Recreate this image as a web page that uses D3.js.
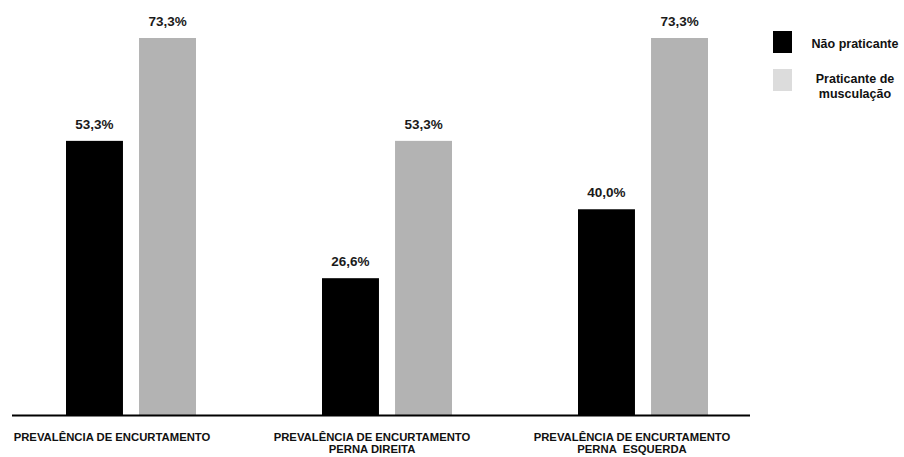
<!DOCTYPE html>
<html>
<head>
<meta charset="utf-8">
<script src="https://cdn.jsdelivr.net/npm/d3@7"></script>
<style>
  html, body { margin: 0; padding: 0; background: #fff; }
  svg { display: block; font-family: "Liberation Sans", Arial, sans-serif; }
</style>
</head>
<body>
<svg id="chart" width="904" height="457"></svg>
<script>
const categories = [
  ["PREVALÊNCIA DE ENCURTAMENTO"],
  ["PREVALÊNCIA DE ENCURTAMENTO", "PERNA DIREITA"],
  ["PREVALÊNCIA DE ENCURTAMENTO", "PERNA  ESQUERDA"]
];
const seriesNames = ["Não praticante", "Praticante de musculação"];
const naoPraticante = [53.3, 26.6, 40.0];
const praticante = [73.3, 53.3, 73.3];
const valueLabels = [["53,3%", "26,6%", "40,0%"], ["73,3%", "53,3%", "73,3%"]];
const legendLabels = [["Não praticante"], ["Praticante de", "musculação"]];

const svg = d3.select("#chart");
const catIdx = categories.map((d, i) => i);
const seriesData = [naoPraticante, praticante];
const barColors = ["#000000", "#b3b3b3"];
const legendColors = ["#000000", "#dcdcdc"];

const baseY = 415;
const y = d3.scaleLinear().domain([0, 73.3]).range([baseY, 38]);
const x0 = d3.scaleBand().domain(catIdx).range([2, 770]).padding(0);
const x1 = d3.scaleBand().domain([0, 1]).range([64, 194]).paddingInner(0.22).paddingOuter(0);
const xLabel = d3.scalePoint().domain(catIdx).range([112, 632]);

const groups = svg.append("g").selectAll("g")
  .data(catIdx).join("g")
  .attr("transform", i => `translate(${x0(i)},0)`);

groups.selectAll("rect")
  .data(i => seriesData.map((s, k) => ({ k, v: s[i], lbl: valueLabels[k][i] })))
  .join("rect")
  .attr("x", d => x1(d.k))
  .attr("width", x1.bandwidth())
  .attr("y", d => y(d.v))
  .attr("height", d => baseY - y(d.v))
  .attr("fill", d => barColors[d.k]);

groups.selectAll("text.val")
  .data(i => seriesData.map((s, k) => ({ k, v: s[i], lbl: valueLabels[k][i] })))
  .join("text")
  .attr("class", "val")
  .attr("x", d => x1(d.k) + x1.bandwidth() / 2)
  .attr("y", d => y(d.v) - 12)
  .attr("text-anchor", "middle")
  .attr("font-size", 13.5)
  .attr("font-weight", "bold")
  .attr("fill", "#1a1a1a")
  .text(d => d.lbl);

// baseline axis
svg.append("line")
  .attr("x1", 12).attr("x2", 750)
  .attr("y1", baseY + 0.5).attr("y2", baseY + 0.5)
  .attr("stroke", "#000").attr("stroke-width", 2);

// category labels
const lab = svg.append("g").selectAll("text")
  .data(catIdx).join("text")
  .attr("x", i => xLabel(i))
  .attr("y", 440.5)
  .attr("text-anchor", "middle")
  .attr("font-size", 11.3)
  .attr("font-weight", "bold")
  .attr("fill", "#111");
lab.selectAll("tspan")
  .data(i => categories[i])
  .join("tspan")
  .attr("x", function () { return d3.select(this.parentNode).attr("x"); })
  .attr("dy", (d, j) => j === 0 ? 0 : 12.8)
  .attr("xml:space", "preserve")
  .style("white-space", "pre")
  .text(d => d);

// legend
const leg = svg.append("g");
const legY = d3.scalePoint().domain([0, 1]).range([31, 69]);
leg.selectAll("rect")
  .data([0, 1]).join("rect")
  .attr("x", 773)
  .attr("y", k => legY(k))
  .attr("width", 19)
  .attr("height", 22)
  .attr("fill", k => legendColors[k]);
const lt = leg.selectAll("text")
  .data([0, 1]).join("text")
  .attr("x", 855)
  .attr("y", k => k === 0 ? 48 : 83)
  .attr("text-anchor", "middle")
  .attr("font-size", 12.5)
  .attr("font-weight", "bold")
  .attr("fill", "#111");
lt.selectAll("tspan")
  .data(k => legendLabels[k])
  .join("tspan")
  .attr("x", 855)
  .attr("dy", (d, j) => j === 0 ? 0 : 14.5)
  .text(d => d);
</script>
</body>
</html>
